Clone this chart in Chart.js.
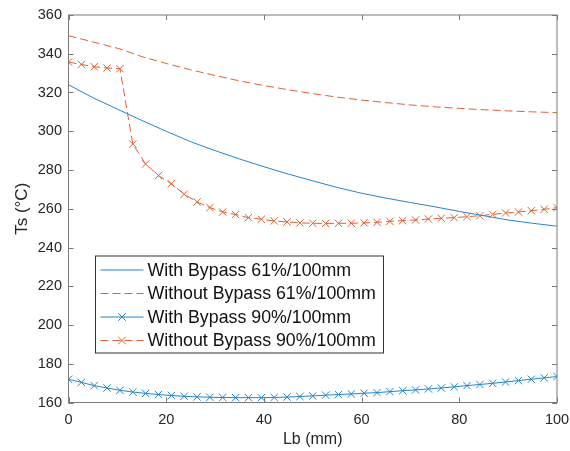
<!DOCTYPE html>
<html>
<head>
<meta charset="utf-8">
<script src="https://cdn.jsdelivr.net/npm/chart.js@4.4.0/dist/chart.umd.min.js"></script>
<style>
    body { margin: 0; background: #fff; }
    #wrap { width: 570px; height: 451px; }
</style>
</head>
<body>
<div id="wrap"><canvas id="myChart"></canvas></div>
<script>
// Lb (mm) positions
const lb61 = [0, 5, 10.53, 15, 20, 25, 30, 35, 40, 45, 50, 55, 60, 65, 70, 75, 80, 85, 90, 95, 100];
const lb90 = [0, 2.63, 5.26, 7.89, 10.53, 13.16, 15.79, 18.42, 21.05, 23.68, 26.32, 28.95, 31.58,
    34.21, 36.84, 39.47, 42.11, 44.74, 47.37, 50, 52.63, 55.26, 57.89, 60.53, 63.16, 65.79,
    68.42, 71.05, 73.68, 76.32, 78.95, 81.58, 84.21, 86.84, 89.47, 92.11, 94.74, 97.37, 100];

// Ts values
const with61 = [324.0, 317.3, 310.8, 305.6, 300.0, 294.6, 290.0, 285.7, 281.7, 277.9, 274.4,
    271.0, 268.0, 265.5, 263.2, 261.0, 258.6, 256.4, 254.2, 252.5, 251.0];
const without61 = [349.3, 346.1, 342.5, 338.5, 335.0, 331.7, 328.8, 326.0, 323.6, 321.4, 319.4,
    317.6, 316.1, 314.8, 313.6, 312.6, 311.8, 311.1, 310.5, 310.0, 309.6];
const with90 = [172.0, 170.4, 168.7, 167.5, 166.3, 165.4, 164.7, 164.1, 163.6, 163.2, 162.9,
    162.7, 162.6, 162.5, 162.5, 162.5, 162.6, 162.8, 163.1, 163.4, 163.8, 164.1, 164.4, 164.8,
    165.1, 165.6, 166.1, 166.5, 167.0, 167.5, 168.1, 168.7, 169.3, 169.9, 170.6, 171.3, 172.0,
    172.7, 173.4];
const without90 = [335.7, 334.5, 333.3, 332.6, 332.3, 293.4, 283.1, 277.1, 272.9, 267.5, 263.5,
    260.6, 258.3, 257.0, 255.4, 254.6, 253.7, 253.2, 252.7, 252.5, 252.4, 252.5, 252.5, 252.7,
    253.0, 253.5, 253.9, 254.2, 254.7, 255.1, 255.4, 255.9, 256.4, 257.1, 257.8, 258.3, 259.0,
    259.7, 260.6];

const labels = ["With Bypass 61%/100mm", "Without Bypass 61%/100mm",
    "With Bypass 90%/100mm", "Without Bypass 90%/100mm"];
const xTicks = [0, 20, 40, 60, 80, 100];
const yTicks = [160, 180, 200, 220, 240, 260, 280, 300, 320, 340, 360];

const blue = "#2585cc";
const orange = "#de6236";
const font = "'Liberation Sans', Arial, sans-serif";

function pairs(xs, ys) {
    let out = [];
    for (let i = 0; i < xs.length; i++) {
        out.push({ x: xs[i], y: ys[i] });
    }
    return out;
}

function drawCross(ctx, x, y, r) {
    ctx.beginPath();
    ctx.moveTo(x - r, y - r);
    ctx.lineTo(x + r, y + r);
    ctx.moveTo(x - r, y + r);
    ctx.lineTo(x + r, y - r);
    ctx.stroke();
}

// box, inward ticks and the legend, matlab style
const axesBox = {
    id: "axesBox",
    afterDraw(chart) {
        const ctx = chart.ctx;
        const a = chart.chartArea;
        const xs = chart.scales.x;
        const ys = chart.scales.y;
        ctx.save();
        ctx.strokeStyle = "#7a7a7a";
        ctx.lineWidth = 1;
        ctx.setLineDash([]);
        ctx.strokeRect(a.left, a.top, a.right - a.left, a.bottom - a.top);
        ctx.beginPath();
        xTicks.forEach(v => {
            let px = Math.round(xs.getPixelForValue(v)) + 0.5;
            ctx.moveTo(px, a.bottom); ctx.lineTo(px, a.bottom - 5);
            ctx.moveTo(px, a.top); ctx.lineTo(px, a.top + 5);
        });
        yTicks.forEach(v => {
            let py = Math.round(ys.getPixelForValue(v)) + 0.5;
            ctx.moveTo(a.left, py); ctx.lineTo(a.left + 5, py);
            ctx.moveTo(a.right, py); ctx.lineTo(a.right - 5, py);
        });
        ctx.stroke();

        // legend
        let bx = a.left + 27, by = a.top + 241, bw = 288, bh = 97;
        ctx.fillStyle = "#fff";
        ctx.fillRect(bx, by, bw, bh);
        ctx.strokeStyle = "#333";
        ctx.strokeRect(bx, by, bw, bh);
        ctx.font = "17.8px " + font;
        ctx.textBaseline = "middle";
        chart.data.datasets.forEach((ds, i) => {
            let cy = by + 14 + i * 23.5;
            ctx.strokeStyle = ds.borderColor;
            ctx.lineWidth = 1;
            ctx.setLineDash(ds.borderDash || []);
            ctx.beginPath();
            ctx.moveTo(bx + 5, cy);
            ctx.lineTo(bx + 48, cy);
            ctx.stroke();
            ctx.setLineDash([]);
            if (ds.pointRadius > 0) {
                drawCross(ctx, bx + 26.5, cy, 3.8);
            }
            ctx.fillStyle = "#111";
            ctx.fillText(ds.label, bx + 52, cy + 1);
        });
        ctx.restore();
    }
};

let myChart = new Chart("myChart", {
    type: "line",
    data: {
        datasets: [{
            label: labels[0],
            data: pairs(lb61, with61),
            borderColor: blue,
            borderWidth: 1,
            pointRadius: 0
        }, {
            label: labels[1],
            data: pairs(lb61, without61),
            borderColor: orange,
            borderWidth: 1,
            borderDash: [8, 4],
            pointRadius: 0
        }, {
            label: labels[2],
            data: pairs(lb90, with90),
            borderColor: blue,
            borderWidth: 1,
            pointStyle: "crossRot",
            pointRadius: 5.2,
            pointBorderWidth: 1,
            pointBorderColor: blue
        }, {
            label: labels[3],
            data: pairs(lb90, without90),
            borderColor: orange,
            borderWidth: 1,
            borderDash: [8, 4],
            pointStyle: "crossRot",
            pointRadius: 5.2,
            pointBorderWidth: 1,
            pointBorderColor: orange
        }]
    },
    options: {
        responsive: true,
        maintainAspectRatio: false,
        animation: false,
        layout: { padding: { left: 0, right: 13, top: 15, bottom: 0 } },
        plugins: {
            legend: { display: false },
            tooltip: { enabled: false }
        },
        scales: {
            x: {
                type: "linear",
                min: 0,
                max: 100,
                afterFit: s => { s.height = 48.5; s.paddingLeft = 0; s.paddingRight = 0; },
                afterBuildTicks: s => { s.ticks = xTicks.map(v => ({ value: v })); },
                grid: { display: false, drawTicks: false },
                border: { display: false },
                ticks: { font: { family: font, size: 14.5 }, color: "#262626", padding: 9, maxRotation: 0 },
                title: { display: true, text: "Lb (mm)", font: { family: font, size: 16 }, color: "#262626", padding: { top: 0, bottom: 1.5 } }
            },
            y: {
                min: 160,
                max: 360,
                afterFit: s => { s.width = 68.5; s.paddingTop = 0; s.paddingBottom = 0; },
                afterBuildTicks: s => { s.ticks = yTicks.map(v => ({ value: v })); },
                grid: { display: false, drawTicks: false },
                border: { display: false },
                ticks: { font: { family: font, size: 14.5 }, color: "#262626", padding: 6.5 },
                title: { display: true, text: "Ts (°C)", font: { family: font, size: 17 }, color: "#262626", padding: { top: 12, bottom: 0 } }
            }
        }
    },
    plugins: [axesBox]
});
</script>
</body>
</html>
